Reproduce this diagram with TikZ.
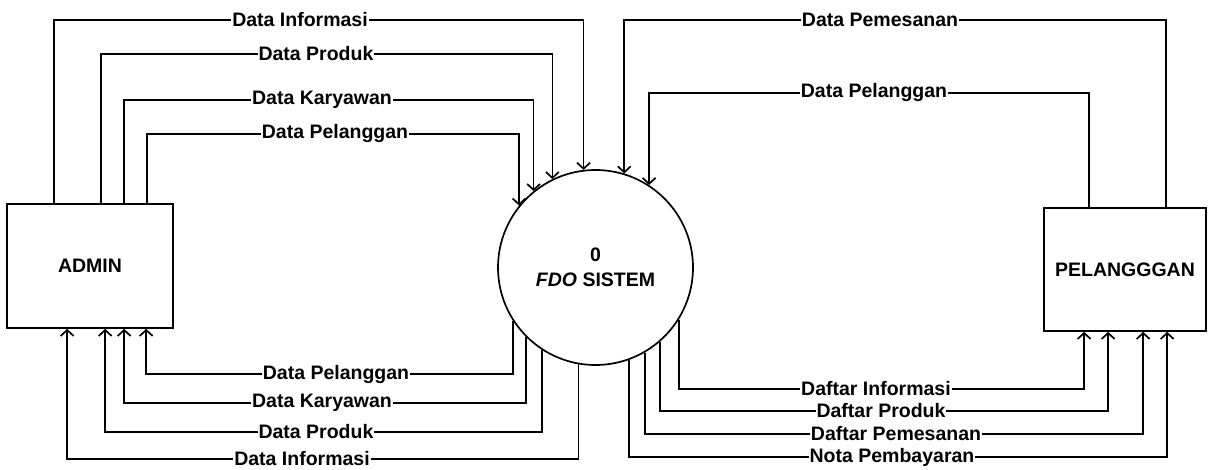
\documentclass[tikz,border=0pt]{standalone}
\usepackage{fontspec}
\setmainfont{Liberation Sans}
\usepackage{tikz}
\usetikzlibrary{arrows.meta}
\usetikzlibrary{positioning}

\begin{document}
\begin{tikzpicture}[x=1pt,y=-1pt,
    font=\bfseries\fontsize{19.5}{25}\selectfont,
    ent/.style={draw,line width=1.7pt,inner sep=0pt},
    proc/.style={draw,circle,line width=1.7pt,minimum size=195pt,inner sep=0pt,align=center},
    flow/.style={line width=1.7pt,-{Straight Barb[length=6pt,width=13pt]}},
    lbl/.style={fill=white,inner sep=1pt}]
                \useasboundingbox (0,0) rectangle (1209,470);
                \node[ent,minimum width=166pt,minimum height=124pt] (admin) at (90,266) {ADMIN};
                \node[proc] (sys) at (595.5,267.5) {0\\\textit{FDO} SISTEM};
                \node[ent,minimum width=162pt,minimum height=123pt] (pel) at (1125,269.5) {PELANGGGAN};

                \draw[flow] ([xshift=48pt]admin.north west) |- (300,20) node[lbl] (ai) {Data Informasi} -| (sys.97);
                \draw[flow] ([xshift=95pt]admin.north west) |- (316,54) node[lbl] (ap) {Data Produk} -| (sys.116.8);
                \draw[flow] ([xshift=118pt]admin.north west) |- (322,100) node[lbl] (ak) {Data Karyawan} -| (sys.129.5);
                \draw[flow] ([xshift=141pt]admin.north west) |- (335,134) node[lbl] (al) {Data Pelanggan} -| (sys.141.2);

                \draw[flow] (sys.213) |- (336,374) node[lbl] (sl) {Data Pelanggan} -| ([xshift=140pt]admin.south west);
                \draw[flow] (sys.225) |- (322,403) node[lbl] (sk) {Data Karyawan} -| ([xshift=118pt]admin.south west);
                \draw[flow] (sys.237.8) |- (316,432) node[lbl] (sp) {Data Produk} -| ([xshift=99pt]admin.south west);
                \draw[flow] (sys.260.6) |- (302,459) node[lbl] (si) {Data Informasi} -| ([xshift=61pt]admin.south west);

                \draw[flow] ([xshift=123pt]pel.north west) |- (880,20) node[lbl] (pm) {Data Pemesanan} -| (sys.73.9);
                \draw[flow] ([xshift=46pt]pel.north west) |- (874,93) node[lbl] (pl) {Data Pelanggan} -| (sys.57.8);

                \draw[flow] (sys.-32.8) |- (876,389) node[lbl] (di) {Daftar Informasi} -| ([xshift=41pt]pel.south west);
                \draw[flow] (sys.-49) |- (881,411) node[lbl] (dp) {Daftar Produk} -| ([xshift=65pt]pel.south west);
                \draw[flow] (sys.-60.5) |- (896,434) node[lbl] (dm) {Daftar Pemesanan} -| ([xshift=100pt]pel.south west);
                \draw[flow] (sys.-70.2) |- (892,457) node[lbl] (nb) {Nota Pembayaran} -| ([xshift=124pt]pel.south west);
            \end{tikzpicture}
\end{document}
